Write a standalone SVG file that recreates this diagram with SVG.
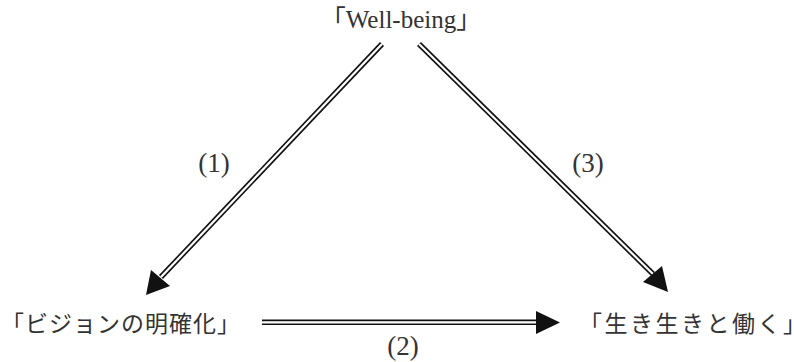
<svg xmlns="http://www.w3.org/2000/svg" width="794" height="362" viewBox="0 0 794 362">
<style>
.lbl{font-family:"Liberation Serif","Noto Sans CJK JP",serif;fill:#333;}
.jp{font-family:"Noto Sans CJK JP","Liberation Serif",serif;fill:#333;font-size:23px;letter-spacing:1px;}
.outer{stroke:#111;stroke-width:5.5;fill:none;}
.inner{stroke:#fff;stroke-width:2.2;fill:none;}
.head{fill:#111;stroke:none;}
</style>
<rect width="794" height="362" fill="#fff"/>
<g id="node-wellbeing"><text class="lbl" x="401" y="28" font-size="25" text-anchor="middle">「Well-being」</text></g>
<g id="node-vision"><text class="jp" x="1" y="332">「ビジョンの明確化」</text></g>
<g id="node-ikiiki"><text class="jp" x="579" y="332" style="letter-spacing:2.5px">「生き生きと働く」</text></g>
<g id="connectors">
<g id="edge1">
<line class="outer" x1="382" y1="44" x2="161" y2="277"/>
<line class="inner" x1="382" y1="44" x2="161" y2="277"/>
<polygon class="head" points="146,295 151,270 170,286"/>
<text class="lbl" x="214" y="172" font-size="27" text-anchor="middle">(1)</text>
</g>
<g id="edge3">
<line class="outer" x1="419" y1="44" x2="653" y2="274"/>
<line class="inner" x1="419" y1="44" x2="653" y2="274"/>
<polygon class="head" points="668,292 643,282 662,266"/>
<text class="lbl" x="588" y="172" font-size="27" text-anchor="middle">(3)</text>
</g>
<g id="edge2">
<line class="outer" x1="262" y1="322.3" x2="538" y2="322.3"/>
<line class="inner" x1="262" y1="322.3" x2="538" y2="322.3"/>
<polygon class="head" points="560,322.5 536,311 536,334"/>
<text class="lbl" x="403" y="355" font-size="27" text-anchor="middle">(2)</text>
</g>
</g>
</svg>
